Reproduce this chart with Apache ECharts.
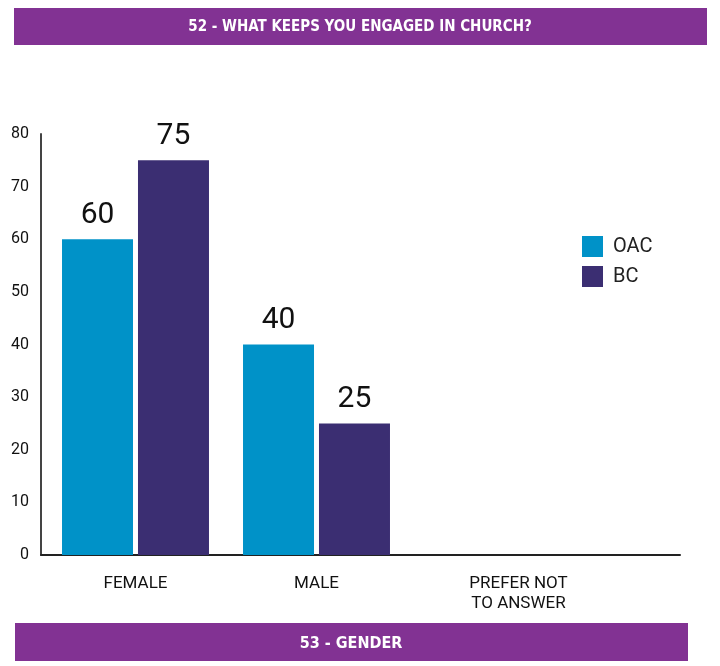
<!DOCTYPE html>
<html>
<head>
<meta charset="utf-8">
<script src="https://cdn.jsdelivr.net/npm/echarts@6/dist/echarts.min.js"></script>
<style>
html,body{margin:0;padding:0;background:#fff;}
#chart{width:720px;height:666px;}
</style>
</head>
<body>
<div id="chart"></div>
<script>
const titleText = '52 - WHAT KEEPS YOU ENGAGED IN CHURCH?';
const footerText = '53 - GENDER';
const categories = ['FEMALE', 'MALE', 'PREFER NOT\nTO ANSWER'];
const seriesNames = ['OAC', 'BC'];
const oacValues = [60, 40, null];
const bcValues = [75, 25, null];
const yTicks = [0, 10, 20, 30, 40, 50, 60, 70, 80];

const purple = '#823293';
const chart = echarts.init(document.getElementById('chart'), null, {renderer: 'canvas'});

const catData = categories.map((c, i) => i === 2
  ? {value: c, textStyle: {padding: [0, 0, 0, 42]}}
  : {value: c});

const labelStyle = {
  show: true, position: 'top', distance: 9,
  fontFamily: 'Roboto', fontSize: 30, color: '#111',
  formatter: p => p.value == null ? '' : p.value
};

chart.setOption({
  animation: false,
  backgroundColor: '#fff',
  graphic: [
    {type: 'rect', shape: {x: 14, y: 8, width: 693, height: 37}, style: {fill: purple}, z: 0},
    {type: 'text', x: 360, y: 27, style: {text: titleText, fill: '#fff', font: 'bold 15px "DejaVu Sans Condensed"', align: 'center', verticalAlign: 'middle'}, z: 1},
    {type: 'rect', shape: {x: 15, y: 623, width: 673, height: 38}, style: {fill: purple}, z: 0},
    {type: 'text', x: 351, y: 644, style: {text: footerText, fill: '#fff', font: 'bold 16px "DejaVu Sans Condensed"', align: 'center', verticalAlign: 'middle'}, z: 1}
  ],
  legend: {
    data: seriesNames,
    orient: 'vertical', left: 582, top: 236,
    itemWidth: 21, itemHeight: 21, itemGap: 9, icon: 'rect', padding: 0,
    textStyle: {fontFamily: 'Roboto', fontSize: 20, color: '#222', padding: [0, 0, 0, 5]}
  },
  grid: [
    {left: 45, width: 543, top: 134, bottom: 111},
    {left: 41, right: 40, top: 134, bottom: 111}
  ],
  xAxis: [
    {
      type: 'category', gridIndex: 0, data: catData,
      axisLine: {show: false}, axisTick: {show: false},
      axisLabel: {fontFamily: 'Roboto', fontSize: 17, color: '#111', margin: 19, lineHeight: 20, interval: 0}
    },
    {
      type: 'value', gridIndex: 1, min: 0, max: 1,
      axisLine: {show: true, lineStyle: {color: '#222', width: 2}},
      axisTick: {show: false}, axisLabel: {show: false}, splitLine: {show: false}
    }
  ],
  yAxis: [
    {
      type: 'value', gridIndex: 0, min: yTicks[0], max: yTicks[yTicks.length - 1], interval: 10,
      offset: 4,
      axisLine: {show: true, lineStyle: {color: '#444', width: 2}},
      axisTick: {show: false}, splitLine: {show: false},
      axisLabel: {fontFamily: 'Roboto', fontSize: 16, color: '#111', margin: 12}
    },
    {
      type: 'value', gridIndex: 1, show: false, min: 0, max: 1
    }
  ],
  series: [
    {
      name: seriesNames[0], type: 'bar', xAxisIndex: 0, yAxisIndex: 0,
      data: oacValues, barWidth: 71, barGap: '7%',
      itemStyle: {color: '#0092C8'}, label: labelStyle
    },
    {
      name: seriesNames[1], type: 'bar', xAxisIndex: 0, yAxisIndex: 0,
      data: bcValues, barWidth: 71, barGap: '7%',
      itemStyle: {color: '#3B2E72'}, label: labelStyle
    }
  ]
});
</script>
</body>
</html>
